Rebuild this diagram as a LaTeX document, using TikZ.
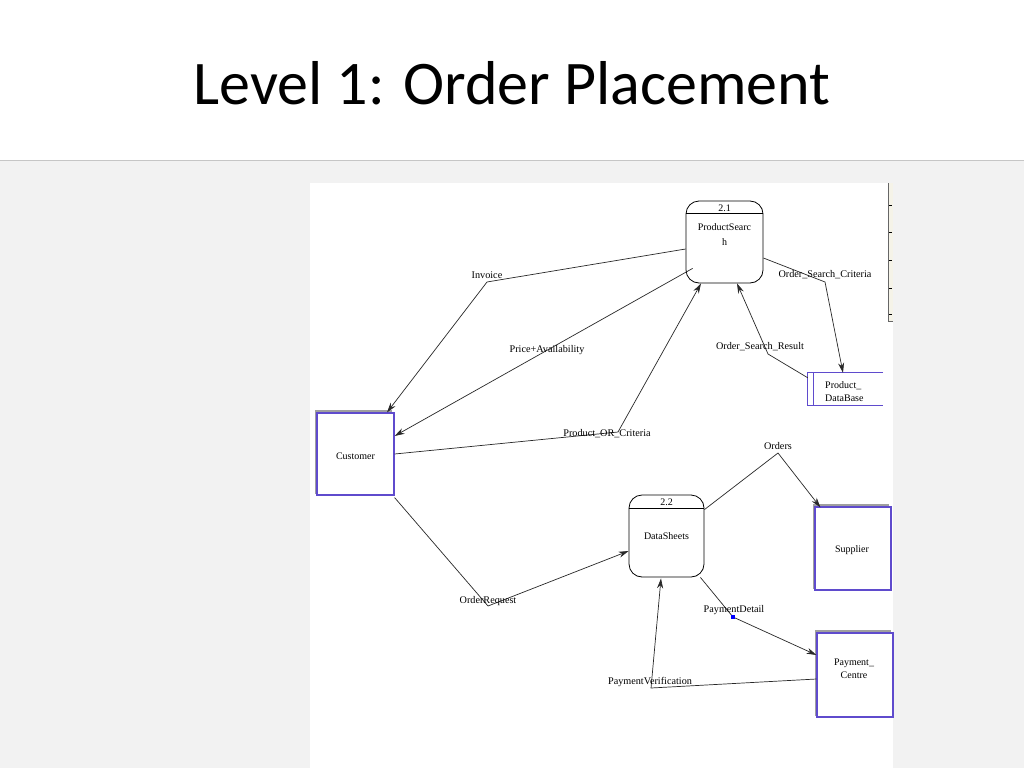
\documentclass[tikz,border=0pt]{standalone}
\usepackage{fontspec}
\setmainfont{Liberation Serif}
\newfontfamily\titlefont{Carlito}
\usetikzlibrary{arrows.meta,calc}
\definecolor{entity}{RGB}{95,75,205}
\definecolor{slidebg}{RGB}{242,242,242}
\definecolor{flowc}{RGB}{40,40,40}
\definecolor{scrollbg}{RGB}{245,243,232}
\begin{document}
\begin{tikzpicture}[x=1pt,y=-1pt,
  lbl/.style={font=\fontsize{10.2}{11}\selectfont, inner sep=0pt},
  txt/.style={font=\fontsize{10}{11}\selectfont, inner sep=0pt},
  proc/.style={draw=black, line width=0.8pt, rounded corners=13pt, inner sep=0pt},
  ent/.style={draw=entity, line width=1.2pt, fill=white, inner sep=0pt},
  shad/.style={fill=gray!75, draw=none},
  flow/.style={draw=flowc, line width=0.7pt, -{Stealth[length=10pt,width=6pt]}},
  seg/.style={draw=flowc, line width=0.7pt}]
\useasboundingbox (0,0) rectangle (1024,768);
% slide background
\fill[white] (0,0) rectangle (1024,160);
\fill[slidebg] (0,160) rectangle (1024,768);
\draw[gray!45, line width=0.8pt] (0,160) -- (1024,160);
\node[font=\titlefont\fontsize{62}{70}\selectfont, anchor=base, inner sep=0pt] (title) at (512,104) {Level 1: Order Placement};
% white panel
\fill[white] (310,183) rectangle (893,768);
% scrollbar fragment
\fill[scrollbg] (889,183) rectangle (893,321);
\draw[gray!80!black, line width=1pt] (888.5,183) -- (888.5,321) -- (893,321);
\foreach \ty in {205,232,260,288,314} \draw[black, line width=1pt] (889,\ty) -- (892,\ty);

% processes
\node[proc, minimum width=77pt, minimum height=82pt] (p21) at (724.5,242) {};
\draw[black, line width=0.8pt] ($(p21.north west)+(0,13)$) -- ($(p21.north east)+(0,13)$);
\node[txt] (p21num) at (724.5,208) {2.1};
\node[txt, align=center] (p21name) at (724.5,235) {ProductSearc\\[4pt]h};

\node[proc, minimum width=75pt, minimum height=82pt] (p22) at (666.5,536) {};
\draw[black, line width=0.8pt] ($(p22.north west)+(0,14)$) -- ($(p22.north east)+(0,14)$);
\node[txt] (p22num) at (666.5,502) {2.2};
\node[txt] (p22name) at (666.5,536) {DataSheets};

% data store
\node[minimum width=75pt, minimum height=32pt, inner sep=0pt] (pdb) at (845.5,389) {};
\draw[entity, line width=1.1pt] (pdb.north east) -- (pdb.north west) -- (pdb.south west) -- (pdb.south east);
\draw[entity, line width=1.1pt] ($(pdb.north west)+(6,0)$) -- ($(pdb.south west)+(6,0)$);
\node[txt, align=left, anchor=west] (pdbname) at (825,392) {Product\_\\[2pt]DataBase};

% entities
\fill[shad] (314.5,410) rectangle (392,494);
\node[ent, minimum width=77pt, minimum height=82pt] (cust) at (355.5,454) {};
\node[txt] (custname) at (355.5,456) {Customer};

\fill[shad] (812.5,504) rectangle (889,589);
\node[ent, minimum width=76pt, minimum height=83pt] (sup) at (853,548.5) {};
\node[txt] (supname) at (852,550) {Supplier};

\fill[shad] (814.5,630) rectangle (891,716);
\node[ent, minimum width=76pt, minimum height=84pt] (pay) at (855,675) {};
\node[txt, align=center] (payname) at (854,669) {Payment\_\\[2pt]Centre};

% bend coordinates
\coordinate (bInv) at (487,282);
\coordinate (bPOC) at (618,432);
\coordinate (bOSC) at (825,282);
\coordinate (bOSR) at (768,354);
\coordinate (bOR) at (488,606);
\coordinate (bOrd) at (778,453);
\coordinate (bPD) at (733,617);
\coordinate (bPV) at (651,688);

% flows
\draw[flow] ($(p21.west)+(0,7)$) -- (bInv) -- ($(cust.north)+(31.5,0)$);
\draw[flow] ($(p21.south west)+(7,-15)$) -- ($(cust.east)+(0,-18)$);
\draw[flow] (cust.east) -- (bPOC) -- ($(p21.south)+(-23.5,0)$);
\draw[flow] ($(p21.east)+(0,16)$) -- (bOSC) -- ($(pdb.north)+(-2.5,0)$);
\draw[flow] ($(pdb.north west)+(0,5)$) -- (bOSR) -- ($(p21.south)+(12.5,0)$);
\draw[flow] ($(cust.south east)+(0,2)$) -- (bOR) -- ($(p22.west)+(0,15)$);
\draw[flow] ($(p22.north east)+(0,15)$) -- (bOrd) -- ($(sup.north west)+(6,1)$);
\draw[flow] ($(p22.south east)+(-4,0)$) -- (bPD) -- ($(pay.west)+(0,-20)$);
\draw[flow] ($(pay.west)+(0,4)$) -- (bPV) -- ($(p22.south)+(-5.5,1)$);
\fill[blue] ($(bPD)+(-2,-2)$) rectangle ($(bPD)+(2,2)$);

% labels
\node[lbl] (lInv) at (487,275) {Invoice};
\node[lbl] (lPA) at (547,350) {Price+Availability};
\node[lbl] (lPOC) at (607,434) {Product\_OR\_Criteria};
\node[lbl] (lOSC) at (825,275) {Order\_Search\_Criteria};
\node[lbl] (lOSR) at (760,347) {Order\_Search\_Result};
\node[lbl] (lOR) at (488,601) {OrderRequest};
\node[lbl] (lOrd) at (778,446) {Orders};
\node[lbl] (lPD) at (734,610) {PaymentDetail};
\node[lbl] (lPV) at (650,682) {PaymentVerification};
\end{tikzpicture}
\end{document}
